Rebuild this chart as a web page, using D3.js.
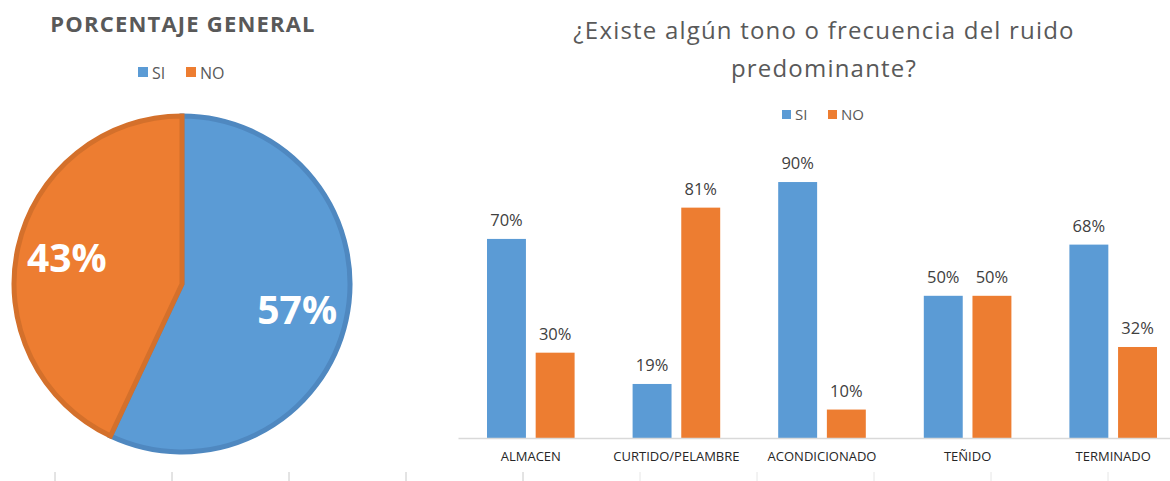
<!DOCTYPE html>
<html>
<head>
<meta charset="utf-8">
<script src="https://cdn.jsdelivr.net/npm/d3@7"></script>
<style>
  body { margin: 0; background: #fff; }
  svg { display: block; font-family: "Open Sans", sans-serif; }
</style>
</head>
<body>
<div id="chart"></div>
<script>
// pie data
const pieLabels = ["SI", "NO"]
const pieValues = [0.57, 0.43]

// bar data
const areas = ["ALMACEN", "CURTIDO/PELAMBRE", "ACONDICIONADO", "TEÑIDO", "TERMINADO"]
const siValues = [0.70, 0.19, 0.90, 0.50, 0.68]
const noValues = [0.30, 0.81, 0.10, 0.50, 0.32]
const seriesNames = ["SI", "NO"]

const fill = {SI: "#5b9bd5", NO: "#ed7d31"}
const edge = {SI: "#4f88c0", NO: "#d4702b"}

const svg = d3.select("#chart")
    .append("svg")
    .attr("width", 1170)
    .attr("height", 481)

// faint page ruler ticks at the bottom
let rx = d3.scaleLinear().domain([0, 9]).range([55, 1108])
svg.append("g")
    .selectAll("line")
    .data(d3.range(10))
    .join("line")
    .attr("x1", d => rx(d)).attr("x2", d => rx(d))
    .attr("y1", 472).attr("y2", 481)
    .attr("stroke", d => d < 5 ? "#c8c8c8" : "#e6e6e6")
    .attr("stroke-width", 1)

// ---------- Pie ----------
svg.append("text")
    .attr("x", 183)
    .attr("y", 32)
    .attr("text-anchor", "middle")
    .attr("fill", "#595959")
    .style("font-size", "22px")
    .style("font-weight", "bold")
    .style("letter-spacing", "1.2px")
    .text("PORCENTAJE GENERAL")

let pieLegend = svg.append("g")
    .selectAll("g")
    .data(pieLabels)
    .join("g")
    .attr("transform", (d, i) => `translate(${138 + i * 48}, 0)`)
pieLegend.append("rect")
    .attr("y", 67).attr("width", 10).attr("height", 10)
    .attr("fill", d => fill[d])
pieLegend.append("text")
    .attr("x", 14).attr("y", 78.5)
    .attr("fill", "#595959")
    .style("font-size", "16px")
    .text(d => d)

let pie = d3.pie().sort(null).value(d => d)
let arc = d3.arc().innerRadius(0).outerRadius(168)
let pg = svg.append("g").attr("transform", "translate(182,284)")
let slices = pie(pieValues)
pg.selectAll("path")
    .data(slices)
    .join("path")
    .attr("d", arc)
    .attr("fill", (d, i) => fill[pieLabels[i]])
    .attr("stroke", (d, i) => edge[pieLabels[i]])
    .attr("stroke-width", 5)
    .attr("stroke-linejoin", "miter")

let labelArc = d3.arc().innerRadius(118).outerRadius(118)
pg.selectAll("text")
    .data(slices)
    .join("text")
    .attr("transform", d => {
        let c = labelArc.centroid(d)
        return `translate(${c[0]},${c[1] + 14})`
    })
    .attr("text-anchor", "middle")
    .attr("fill", "#fff")
    .style("font-size", "39px")
    .style("font-weight", "bold")
    .text(d => Math.round(d.value * 100) + "%")

// ---------- Bars ----------
svg.append("text")
    .attr("text-anchor", "middle")
    .attr("fill", "#595959")
    .style("font-size", "24px")
    .style("letter-spacing", "1.2px")
    .selectAll("tspan")
    .data(["¿Existe algún tono o frecuencia del ruido", "predominante?"])
    .join("tspan")
    .attr("x", 824)
    .attr("y", (d, i) => 38.5 + i * 38.5)
    .text(d => d)

let barLegend = svg.append("g")
    .selectAll("g")
    .data(seriesNames)
    .join("g")
    .attr("transform", (d, i) => `translate(${782 + i * 46}, 0)`)
barLegend.append("rect")
    .attr("y", 110).attr("width", 9).attr("height", 9)
    .attr("fill", d => fill[d])
barLegend.append("text")
    .attr("x", 13).attr("y", 120)
    .attr("fill", "#595959")
    .style("font-size", "15px")
    .text(d => d)

let x = d3.scaleBand()
    .domain(areas)
    .range([458, 1186])
let xs = d3.scaleBand()
    .domain(seriesNames)
    .range([29, x.bandwidth() - 29])
    .paddingInner(0.2)
let y = d3.scaleLinear()
    .domain([0, 1])
    .range([438, 153.6])

let rows = areas.map((a, i) => ({area: a, SI: siValues[i], NO: noValues[i]}))

let groups = svg.append("g")
    .selectAll("g")
    .data(rows)
    .join("g")
    .attr("transform", d => `translate(${x(d.area)},0)`)

groups.selectAll("rect")
    .data(d => seriesNames.map(s => ({s: s, v: d[s]})))
    .join("rect")
    .attr("x", d => xs(d.s))
    .attr("width", xs.bandwidth())
    .attr("y", d => y(d.v))
    .attr("height", d => y(0) - y(d.v))
    .attr("fill", d => fill[d.s])

groups.selectAll("text")
    .data(d => seriesNames.map(s => ({s: s, v: d[s]})))
    .join("text")
    .attr("x", d => xs(d.s) + xs.bandwidth() / 2)
    .attr("y", d => y(d.v) - 13)
    .attr("text-anchor", "middle")
    .attr("fill", "#404040")
    .style("font-size", "16.5px")
    .text(d => Math.round(d.v * 100) + "%")

let xAxis = svg.append("g")
    .attr("transform", "translate(0,438)")
    .call(d3.axisBottom(x).tickSize(0).tickPadding(14))
xAxis.select(".domain").attr("stroke", "#d9d9d9").attr("stroke-width", 1.5)
xAxis.selectAll("text")
    .attr("fill", "#262626")
    .style("font-size", "13px")
    .style("font-family", "'Open Sans', sans-serif")
</script>
</body>
</html>
